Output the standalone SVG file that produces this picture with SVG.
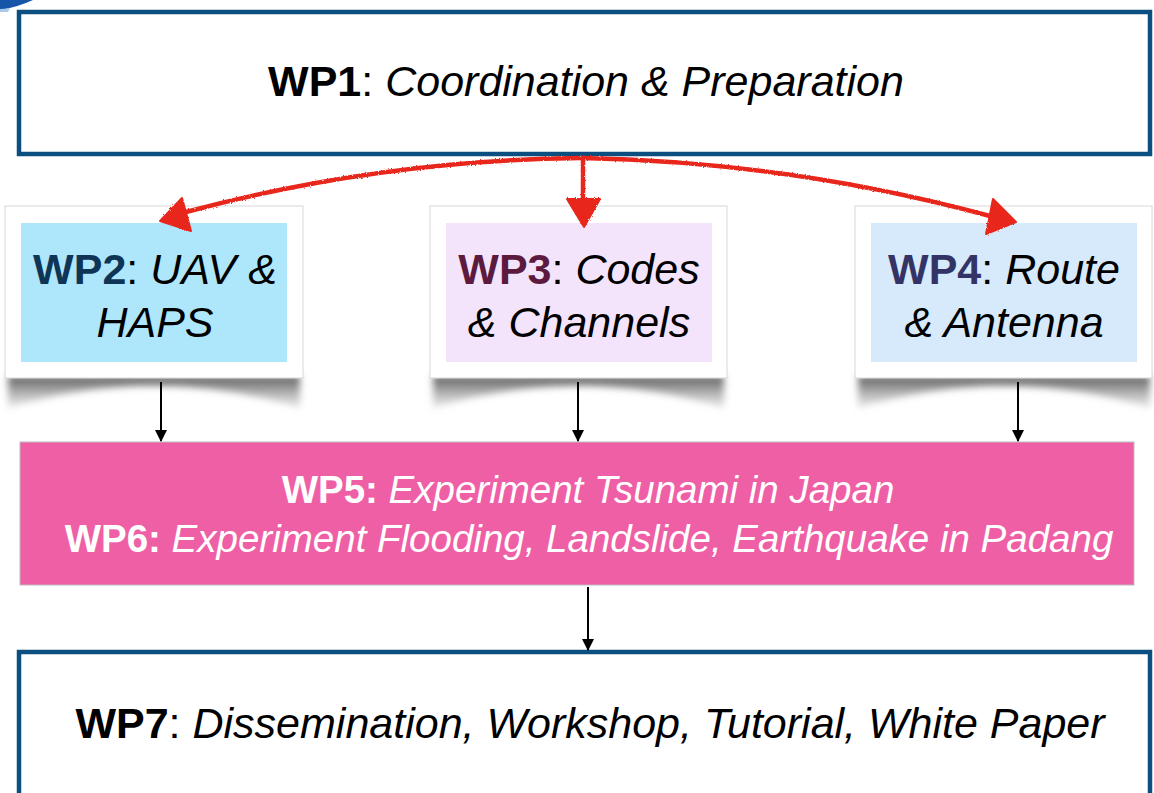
<svg xmlns="http://www.w3.org/2000/svg" width="1154" height="793" viewBox="0 0 1154 793">
<defs>
<style>
.t{font-family:"Liberation Sans",Arial,Helvetica,sans-serif;font-size:43px;fill:#000;text-anchor:middle}
.b{font-weight:bold}
.i{font-style:italic}
.w{fill:#fff;font-size:38.5px}
.bluebox{fill:#fff;stroke:#0b4f80;stroke-width:4.5}
.card{fill:#fff;stroke:#d8d8d8;stroke-width:1}
.red{fill:none;stroke:#e8261b;stroke-width:4.5;stroke-linecap:round}
.redh{fill:#e8261b;stroke:#e8261b;stroke-width:2;stroke-linejoin:round}
.blk{stroke:#000;stroke-width:2}
.shadow{fill:url(#sg);filter:url(#blur)}
</style>
<linearGradient id="sg" x1="0" y1="0" x2="0" y2="1">
<stop offset="0" stop-color="#444" stop-opacity="0.9"/>
<stop offset="0.5" stop-color="#777" stop-opacity="0.6"/>
<stop offset="1" stop-color="#aaa" stop-opacity="0.25"/>
</linearGradient>
<filter id="blur" x="-10%" y="-50%" width="120%" height="200%"><feGaussianBlur stdDeviation="3.5"/></filter>
<filter id="rough" x="-5%" y="-20%" width="110%" height="140%"><feTurbulence type="fractalNoise" baseFrequency="0.6" numOctaves="2" seed="3"/><feDisplacementMap in="SourceGraphic" scale="2.5"/></filter>
<marker id="ah" viewBox="0 0 12 12" refX="11" refY="6" markerWidth="12" markerHeight="12" markerUnits="userSpaceOnUse" orient="auto"><path d="M0,0 L12,6 L0,12 Z" fill="#000"/></marker>
</defs>
<rect width="1154" height="793" fill="#fff"/>
<path d="M0,0 L33,0 Q18,7 0,10 Z" fill="#1656a8"/>
<path d="M0,9 Q5,9 10,8 L8,12 L0,12 Z" fill="#a9c8ea"/>

<g id="wp1">
<rect class="bluebox" x="19" y="12" width="1131" height="142"/>
<text class="t" x="586" y="96"><tspan class="b">WP1</tspan>: <tspan class="i">Coordination &amp; Preparation</tspan></text>
</g>

<g id="wp2">
<path class="shadow" d="M8,376 L300,376 L300,408 Q230,386 154,386 Q78,386 8,408 Z"/>
<rect class="card" x="5" y="206" width="298" height="172"/>
<rect x="21" y="223" width="266" height="139" fill="#aee6fb"/>
<text class="t" x="155" y="284"><tspan class="b" fill="#0f3556">WP2</tspan>: <tspan class="i">UAV &amp;</tspan></text>
<text class="t i" x="155" y="337">HAPS</text>
</g>

<g id="wp3">
<path class="shadow" d="M433,376 L724,376 L724,408 Q652,386 578,386 Q504,386 433,408 Z"/>
<rect class="card" x="430" y="206" width="297" height="172"/>
<rect x="446" y="223" width="266" height="139" fill="#f3e4fb"/>
<text class="t" x="579" y="284"><tspan class="b" fill="#5c1a3f">WP3</tspan>: <tspan class="i">Codes</tspan></text>
<text class="t i" x="579" y="337">&amp; Channels</text>
</g>

<g id="wp4">
<path class="shadow" d="M858,376 L1150,376 L1150,408 Q1078,386 1004,386 Q930,386 858,408 Z"/>
<rect class="card" x="855" y="206" width="297" height="172"/>
<rect x="871" y="223" width="266" height="139" fill="#d6eafc"/>
<text class="t" x="1004" y="284"><tspan class="b" fill="#333366">WP4</tspan>: <tspan class="i">Route</tspan></text>
<text class="t i" x="1004" y="337">&amp; Antenna</text>
</g>

<g id="wp56">
<rect x="20" y="442" width="1114" height="143" fill="#ef5fa6" stroke="#bbb" stroke-width="1"/>
<text class="t w" x="588" y="503"><tspan class="b">WP5:</tspan> <tspan class="i">Experiment Tsunami in Japan</tspan></text>
<text class="t w" x="589" y="552"><tspan class="b">WP6:</tspan> <tspan class="i">Experiment Flooding, Landslide, Earthquake in Padang</tspan></text>
</g>

<g id="wp7">
<rect class="bluebox" x="19" y="652" width="1131" height="150"/>
<text class="t" x="590" y="738"><tspan class="b">WP7</tspan>: <tspan class="i">Dissemination, Workshop, Tutorial, White Paper</tspan></text>
</g>

<g id="connectors">
<g filter="url(#rough)">
<path class="red" d="M582,158 Q380,160 186,212"/>
<path class="red" d="M582,158 Q790,162 990,216"/>
<path class="red" d="M583,158 L583,200"/>
<path class="redh" d="M160,221 L182,198 L191,231 Z"/>
<path class="redh" d="M1016,222 L993,199 L986,234 Z"/>
<path class="redh" d="M567,199 L600,199 L584,227 Z"/>
</g>
<line class="blk" x1="161" y1="382" x2="161" y2="441" marker-end="url(#ah)"/>
<line class="blk" x1="578" y1="382" x2="578" y2="441" marker-end="url(#ah)"/>
<line class="blk" x1="1018" y1="382" x2="1018" y2="441" marker-end="url(#ah)"/>
<line class="blk" x1="588" y1="587" x2="588" y2="650" marker-end="url(#ah)"/>
</g>
</svg>
